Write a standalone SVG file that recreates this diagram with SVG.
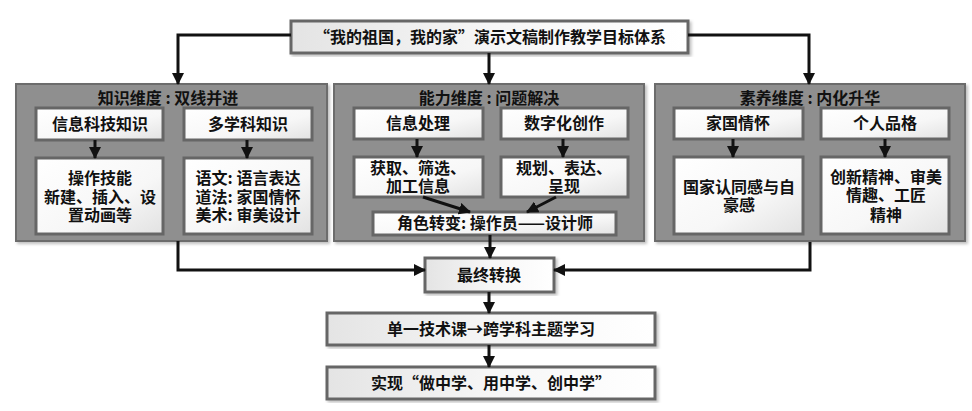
<svg xmlns="http://www.w3.org/2000/svg" width="972" height="411" viewBox="0 0 972 411">
<defs>
<linearGradient id="gBox" x1="0" y1="0" x2="1" y2="1">
<stop offset="0" stop-color="#ffffff"/>
<stop offset="0.6" stop-color="#f7f7f7"/>
<stop offset="1" stop-color="#e2e2e2"/>
</linearGradient>
<linearGradient id="gWide" x1="0" y1="0" x2="1" y2="0">
<stop offset="0" stop-color="#e4e4e4"/>
<stop offset="0.5" stop-color="#f6f6f6"/>
<stop offset="1" stop-color="#ffffff"/>
</linearGradient>
<filter id="sh" x="-5%" y="-5%" width="110%" height="115%">
<feDropShadow dx="2" dy="2" stdDeviation="1.5" flood-color="#000" flood-opacity="0.25"/>
</filter>
<marker id="ah" markerUnits="userSpaceOnUse" markerWidth="12" markerHeight="12" viewBox="0 0 12 12" refX="11" refY="6" orient="auto">
<path d="M0,0 L12,6 L0,12 Z" fill="#111"/>
</marker>
</defs>
<style>
.panel{fill:#8f8f8f;stroke:#6c6c6c;stroke-width:2}
.box{fill:url(#gBox);stroke:#666;stroke-width:3}
.wide{fill:url(#gWide);stroke:#666;stroke-width:3}
.t{font-family:"Noto Sans CJK SC","Noto Sans",sans-serif;font-weight:bold;font-size:16px;fill:#111;text-anchor:middle}
.c{fill:none;stroke:#111;stroke-width:3;marker-end:url(#ah)}
</style>
<rect width="972" height="411" fill="#ffffff"/>

<g id="top">
<rect class="wide" x="291" y="21" width="397" height="32" filter="url(#sh)"/>
<text class="t" x="490" y="43">“我的祖国，我的家”演示文稿制作教学目标体系</text>
</g>

<g id="panel-knowledge">
<rect class="panel" x="16" y="84" width="311" height="157" filter="url(#sh)"/>
<text class="t" x="168" y="104">知识维度 : 双线并进</text>
</g>
<g id="n-infotech">
<rect class="box" x="36" y="108" width="127" height="32"/>
<text class="t" x="100" y="130">信息科技知识</text>
</g>
<g id="n-multi">
<rect class="box" x="184" y="108" width="128" height="32"/>
<text class="t" x="248" y="130">多学科知识</text>
</g>
<g id="n-skill">
<rect class="box" x="36" y="158" width="127" height="76"/>
<text class="t" x="100" y="184">操作技能<tspan x="100" dy="19">新建、插入、设</tspan><tspan x="100" dy="18">置动画等</tspan></text>
</g>
<g id="n-subjects">
<rect class="box" x="184" y="158" width="128" height="76"/>
<text class="t" x="248" y="184">语文: 语言表达<tspan x="248" dy="19">道法: 家国情怀</tspan><tspan x="248" dy="18">美术: 审美设计</tspan></text>
</g>

<g id="panel-ability">
<rect class="panel" x="334" y="84" width="310" height="157" filter="url(#sh)"/>
<text class="t" x="489" y="104">能力维度 : 问题解决</text>
</g>
<g id="n-infoproc">
<rect class="box" x="354" y="108" width="129" height="31"/>
<text class="t" x="418" y="129">信息处理</text>
</g>
<g id="n-digital">
<rect class="box" x="501" y="108" width="127" height="31"/>
<text class="t" x="564" y="129">数字化创作</text>
</g>
<g id="n-acquire">
<rect class="box" x="354" y="157" width="129" height="40"/>
<text class="t" x="418" y="174">获取、筛选、<tspan x="418" dy="18">加工信息</tspan></text>
</g>
<g id="n-plan">
<rect class="box" x="501" y="157" width="127" height="40"/>
<text class="t" x="564" y="174">规划、表达、<tspan x="564" dy="18">呈现</tspan></text>
</g>
<g id="n-role">
<rect class="box" x="373" y="212" width="243" height="23"/>
<text class="t" x="495" y="229">角色转变: 操作员——设计师</text>
</g>

<g id="panel-literacy">
<rect class="panel" x="655" y="84" width="310" height="157" filter="url(#sh)"/>
<text class="t" x="810" y="104">素养维度 : 内化升华</text>
</g>
<g id="n-homeland">
<rect class="box" x="674" y="108" width="129" height="31"/>
<text class="t" x="738" y="129">家国情怀</text>
</g>
<g id="n-character">
<rect class="box" x="821" y="108" width="128" height="31"/>
<text class="t" x="885" y="129">个人品格</text>
</g>
<g id="n-identity">
<rect class="box" x="674" y="157" width="129" height="77"/>
<text class="t" x="739" y="193">国家认同感与自<tspan x="739" dy="18">豪感</tspan></text>
</g>
<g id="n-spirit">
<rect class="box" x="821" y="157" width="128" height="77"/>
<text class="t" x="886" y="183">创新精神、审美<tspan x="886" dy="18">情趣、工匠</tspan><tspan x="886" dy="20">精神</tspan></text>
</g>

<g id="n-final">
<rect class="wide" x="425" y="258" width="129" height="34" filter="url(#sh)"/>
<text class="t" x="489" y="281">最终转换</text>
</g>
<g id="n-cross">
<rect class="wide" x="327" y="313" width="328" height="32" filter="url(#sh)"/>
<text class="t" x="491" y="335">单一技术课→跨学科主题学习</text>
</g>
<g id="n-realize">
<rect class="wide" x="327" y="367" width="328" height="32" filter="url(#sh)"/>
<text class="t" x="491" y="389">实现“做中学、用中学、创中学”</text>
</g>

<g id="connectors">
<path class="c" d="M291,35 H178 V84"/>
<path class="c" d="M489,53 V84"/>
<path class="c" d="M688,35 H809 V84"/>
<path class="c" d="M95,140 V158"/>
<path class="c" d="M247,140 V158"/>
<path class="c" d="M417,139 V157"/>
<path class="c" d="M563,139 V157"/>
<path class="c" d="M423,197 L470,212"/>
<path class="c" d="M556,197 L527,212"/>
<path class="c" d="M733,139 V157"/>
<path class="c" d="M885,139 V157"/>
<path class="c" d="M178,241 V270 H425"/>
<path class="c" d="M810,242 V270 H554"/>
<path class="c" d="M490,235 V258"/>
<path class="c" d="M489,292 V313"/>
<path class="c" d="M489,345 V367"/>
</g>
</svg>
